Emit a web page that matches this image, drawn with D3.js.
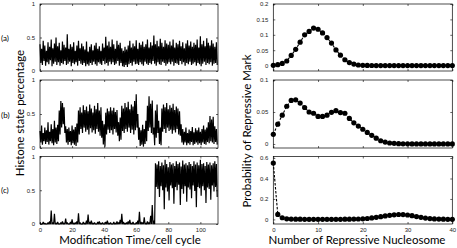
<!DOCTYPE html>
<html>
<head>
<meta charset="utf-8">
<script src="https://cdn.jsdelivr.net/npm/d3@7"></script>
<style>
  body { margin: 0; background: #fff; }
  svg { display: block; font-family: Lato, "Open Sans", sans-serif; }
  text { fill: #000; }
  .tick text { fill: #222; font-size: 6px; }
  .domain { display: none; }
  .tick line { stroke: #000; stroke-width: 0.6; }
</style>
</head>
<body>
<div id="chart"></div>
<script>
// ---- data ----
const timeTicks = [0, 20, 40, 60, 80, 100];
const stateTicks = [0, 0.5, 1];
const nucleosomeTicks = [0, 10, 20, 30, 40];
const panelLabels = ['(a)', '(b)', '(c)'];

// each time unit: upper and lower swing of the noisy trace
const hiA = [.40,.33,.45,.38,.30,.43,.36,.47,.34,.41,.50,
  .37,.42,.31,.44,.39,.35,.55,.33,.40,.36,
  .43,.30,.38,.45,.34,.41,.37,.32,.44,.29,
  .36,.40,.31,.38,.42,.33,.37,.30,.41,.35,
  .51,.38,.44,.36,.47,.40,.33,.45,.39,.42,
  .34,.30,.36,.32,.38,.45,.35,.41,.37,.46,
  .33,.42,.39,.44,.36,.40,.47,.35,.43,.38,
  .53,.40,.45,.37,.48,.42,.36,.46,.41,.39,
  .44,.38,.47,.35,.42,.40,.45,.37,.43,.34,
  .41,.46,.38,.44,.36,.42,.39,.47,.35,.52,
  .40,.45,.37,.49,.42,.38,.46,.41,.36,.43];
const loA = [.12,.09,.15,.08,.13,.10,.16,.07,.11,.14,.09,
  .13,.08,.12,.10,.15,.09,.11,.14,.07,.12,
  .10,.13,.08,.15,.11,.09,.12,.07,.10,.08,
  .12,.09,.14,.10,.08,.13,.11,.09,.15,.10,
  .12,.08,.14,.10,.13,.09,.11,.15,.08,.12,
  .07,.06,.09,.06,.10,.12,.08,.14,.10,.11,
  .09,.13,.10,.08,.14,.11,.09,.12,.10,.15,
  .11,.08,.13,.10,.09,.14,.12,.08,.11,.13,
  .10,.14,.08,.12,.11,.09,.15,.10,.13,.08,
  .12,.10,.14,.09,.11,.13,.08,.12,.10,.07,
  .11,.14,.09,.12,.10,.13,.08,.11,.12,.09];

const hiB = [.25,.33,.22,.30,.26,.38,.24,.35,.28,.40,.30,
  .34,.55,.69,.66,.60,.32,.28,.30,.25,.33,
  .27,.31,.36,.55,.60,.52,.63,.56,.61,.54,
  .64,.58,.52,.62,.57,.66,.55,.60,.40,.35,
  .52,.58,.54,.60,.55,.59,.53,.56,.38,.45,
  .62,.58,.66,.60,.68,.57,.64,.61,.69,.79,
  .50,.30,.26,.34,.28,.40,.62,.76,.65,.70,
  .30,.55,.64,.40,.30,.58,.64,.60,.66,.57,
  .63,.59,.65,.56,.61,.58,.54,.35,.28,.24,
  .30,.22,.27,.25,.31,.23,.29,.26,.30,.24,
  .28,.33,.27,.30,.38,.47,.42,.46,.32,.28];
const loB = [.08,.05,.10,.06,.09,.05,.10,.07,.04,.08,.06,
  .10,.20,.30,.35,.22,.08,.05,.09,.04,.07,
  .05,.03,.08,.20,.28,.22,.30,.24,.27,.20,
  .29,.23,.26,.21,.28,.24,.18,.15,.05,.02,
  .20,.27,.22,.26,.20,.28,.23,.18,.10,.12,
  .25,.22,.28,.24,.30,.22,.27,.20,.26,.30,
  .12,.03,.05,.02,.06,.10,.25,.30,.22,.20,
  .04,.15,.22,.06,.04,.24,.28,.22,.30,.25,
  .27,.21,.26,.23,.28,.20,.18,.08,.05,.08,
  .04,.07,.05,.09,.04,.06,.08,.05,.07,.04,
  .08,.06,.05,.09,.07,.10,.08,.06,.09,.05];

const hiC = [.02,.00,.03,.01,.00,.02,.04,.20,.02,.15,.01,
  .03,.00,.02,.04,.01,.08,.02,.00,.03,.07,
  .01,.02,.04,.16,.02,.00,.03,.01,.05,.14,
  .03,.05,.01,.02,.00,.03,.04,.01,.02,.00,
  .03,.05,.01,.02,.00,.03,.01,.04,.02,.06,
  .15,.03,.01,.02,.04,.06,.01,.03,.00,.02,
  .05,.18,.03,.02,.10,.01,.04,.02,.12,.28,
  .05,.90,.88,.93,.86,.91,.87,.95,.89,.84,
  .92,.88,.90,.86,.93,.89,.91,.85,.94,.88,
  .90,.87,.92,.89,.86,.93,.88,.91,.87,.95,
  .89,.90,.86,.92,.88,.91,.87,.90,.93,.89];
const loC = [0,0,0,0,0,0,0,0,0,0,0,
  0,0,0,0,0,0,0,0,0,0,
  0,0,0,0,0,0,0,0,0,0,
  0,0,0,0,0,0,0,0,0,0,
  0,0,0,0,0,0,0,0,0,0,
  0,0,0,0,0,0,0,0,0,0,
  0,0,0,0,0,0,0,0,0,0,
  0,.55,.52,.40,.56,.50,.22,.54,.48,.35,
  .57,.53,.30,.55,.50,.58,.28,.52,.45,.56,
  .33,.54,.51,.38,.57,.49,.25,.55,.53,.42,
  .56,.50,.31,.54,.52,.36,.57,.48,.55,.40];

// probability of n repressive nucleosomes, n = 0..40
const probA = [.001,.003,.007,.015,.033,.053,.076,.100,.111,.122,
  .118,.106,.091,.073,.051,.034,.019,.010,.005,.002,
  .001,.0005,.0003,.0002,.0001,0,0,0,0,0,
  0,0,0,0,0,0,0,0,0,0,0];
const probB = [.015,.031,.045,.059,.068,.069,.064,.057,.050,.048,
  .043,.043,.045,.0495,.052,.049,.048,.040,.033,.028,
  .023,.018,.0135,.009,.005,.003,.0015,.001,.0005,.0003,
  .0002,0,0,0,0,0,0,0,0,0,0];
const probC = [.551,.049,.016,.006,.003,.002,.002,.001,.001,.001,
  .001,.001,.001,.001,.001,.001,.002,.002,.003,.004,
  .006,.009,.014,.020,.027,.034,.040,.045,.048,.047,
  .043,.036,.028,.020,.013,.008,.005,.003,.002,.001,.001];

const probTicksA = [0, 0.05, 0.1, 0.15, 0.2];
const probTicksB = [0, 0.05, 0.1];
const probTicksC = [0, 0.2, 0.4, 0.6];

const width = 457;
const height = 248;

// panel rows (top, bottom) shared by both columns
const rows = [
  { top: 4, bottom: 71 },
  { top: 80, bottom: 148 },
  { top: 156.5, bottom: 224 },
];

const svg = d3.select('#chart')
  .append('svg')
  .attr('width', width)
  .attr('height', height);

// matlab style box: ticks pointing inward on all four sides
function drawBox(x, y, xTicks, yTicks, showXLabels) {
  const [x0, x1] = x.range();
  const [y0, y1] = y.range(); // bottom, top
  const g = svg.append('g');

  g.append('g')
    .attr('transform', `translate(0, ${y0})`)
    .call(d3.axisBottom(x).tickValues(xTicks).tickSizeInner(-2).tickSizeOuter(0).tickPadding(4)
      .tickFormat(showXLabels ? (d) => d : ''));
  g.append('g')
    .attr('transform', `translate(0, ${y1})`)
    .call(d3.axisTop(x).tickValues(xTicks).tickSizeInner(-2).tickSizeOuter(0).tickFormat(''));
  g.append('g')
    .attr('transform', `translate(${x0}, 0)`)
    .call(d3.axisLeft(y).tickValues(yTicks).tickSizeInner(-2).tickSizeOuter(0).tickPadding(5)
      .tickFormat((d) => d));
  g.append('g')
    .attr('transform', `translate(${x1}, 0)`)
    .call(d3.axisRight(y).tickValues(yTicks).tickSizeInner(-2).tickSizeOuter(0).tickFormat(''));

  g.append('rect')
    .attr('x', x0)
    .attr('y', y1)
    .attr('width', x1 - x0)
    .attr('height', y0 - y1)
    .attr('fill', 'none')
    .attr('stroke', '#000')
    .attr('stroke-width', 0.7);
}

// ---- left column: histone state traces ----
const traces = [[hiA, loA], [hiB, loB], [hiC, loC]];

traces.forEach(([hi, lo], i) => {
  const x = d3.scaleLinear().domain([0, 111]).range([40, 218]);
  const y = d3.scaleLinear().domain([0, 1]).range([rows[i].bottom, rows[i].top]);

  // interleave the swings so the line zigzags like the raw trace
  const points = [];
  hi.forEach((v, t) => {
    points.push([t, v]);
    points.push([t + 0.5, lo[t]]);
  });

  const line = d3.line()
    .x((d) => x(d[0]))
    .y((d) => y(d[1]));

  svg.append('path')
    .datum(points)
    .attr('d', line)
    .attr('fill', 'none')
    .attr('stroke', '#000')
    .attr('stroke-width', 1.2)
    .attr('stroke-linejoin', 'bevel');

  drawBox(x, y, timeTicks, stateTicks, i === 2);

  svg.append('text')
    .attr('x', 1)
    .attr('y', [40.5, 117.5, 193][i])
    .attr('font-size', 8)
    .attr('fill', '#000')
    .text(panelLabels[i]);
});

// ---- right column: distributions ----
const dists = [
  { values: probA, domain: [-0.0175, 0.2], ticks: probTicksA },
  { values: probB, domain: [-0.0063, 0.1], ticks: probTicksB },
  { values: probC, domain: [-0.045, 0.615], ticks: probTicksC },
];

dists.forEach((dist, i) => {
  const x = d3.scaleLinear().domain([0, 40]).range([273.3, 452.3]);
  const y = d3.scaleLinear().domain(dist.domain).range([rows[i].bottom, rows[i].top]);

  const line = d3.line()
    .x((d, n) => x(n))
    .y((d) => y(d));

  svg.append('path')
    .datum(dist.values)
    .attr('d', line)
    .attr('fill', 'none')
    .attr('stroke', '#000')
    .attr('stroke-width', 1.1)
    .attr('stroke-dasharray', '2.5,1.5');

  svg.append('g')
    .selectAll('circle')
    .data(dist.values)
    .join('circle')
    .attr('cx', (d, n) => x(n))
    .attr('cy', (d) => y(d))
    .attr('r', 2.6)
    .attr('fill', '#000');

  drawBox(x, y, nucleosomeTicks, dist.ticks, i === 2);
});

// ---- axis titles ----
svg.append('text')
  .attr('x', 130)
  .attr('y', 243.5)
  .attr('text-anchor', 'middle')
  .attr('font-size', 11.5)
  .text('Modification Time/cell cycle');

svg.append('text')
  .attr('x', 357)
  .attr('y', 243.5)
  .attr('text-anchor', 'middle')
  .attr('font-size', 11.5)
  .text('Number of Repressive Nucleosome');

svg.append('text')
  .attr('transform', 'translate(24, 113) rotate(-90)')
  .attr('text-anchor', 'middle')
  .attr('font-size', 11.5)
  .text('Histone state percentage');

svg.append('text')
  .attr('transform', 'translate(251, 131) rotate(-90)')
  .attr('text-anchor', 'middle')
  .attr('font-size', 11.5)
  .text('Probability of Repressive Mark');
</script>
</body>
</html>
